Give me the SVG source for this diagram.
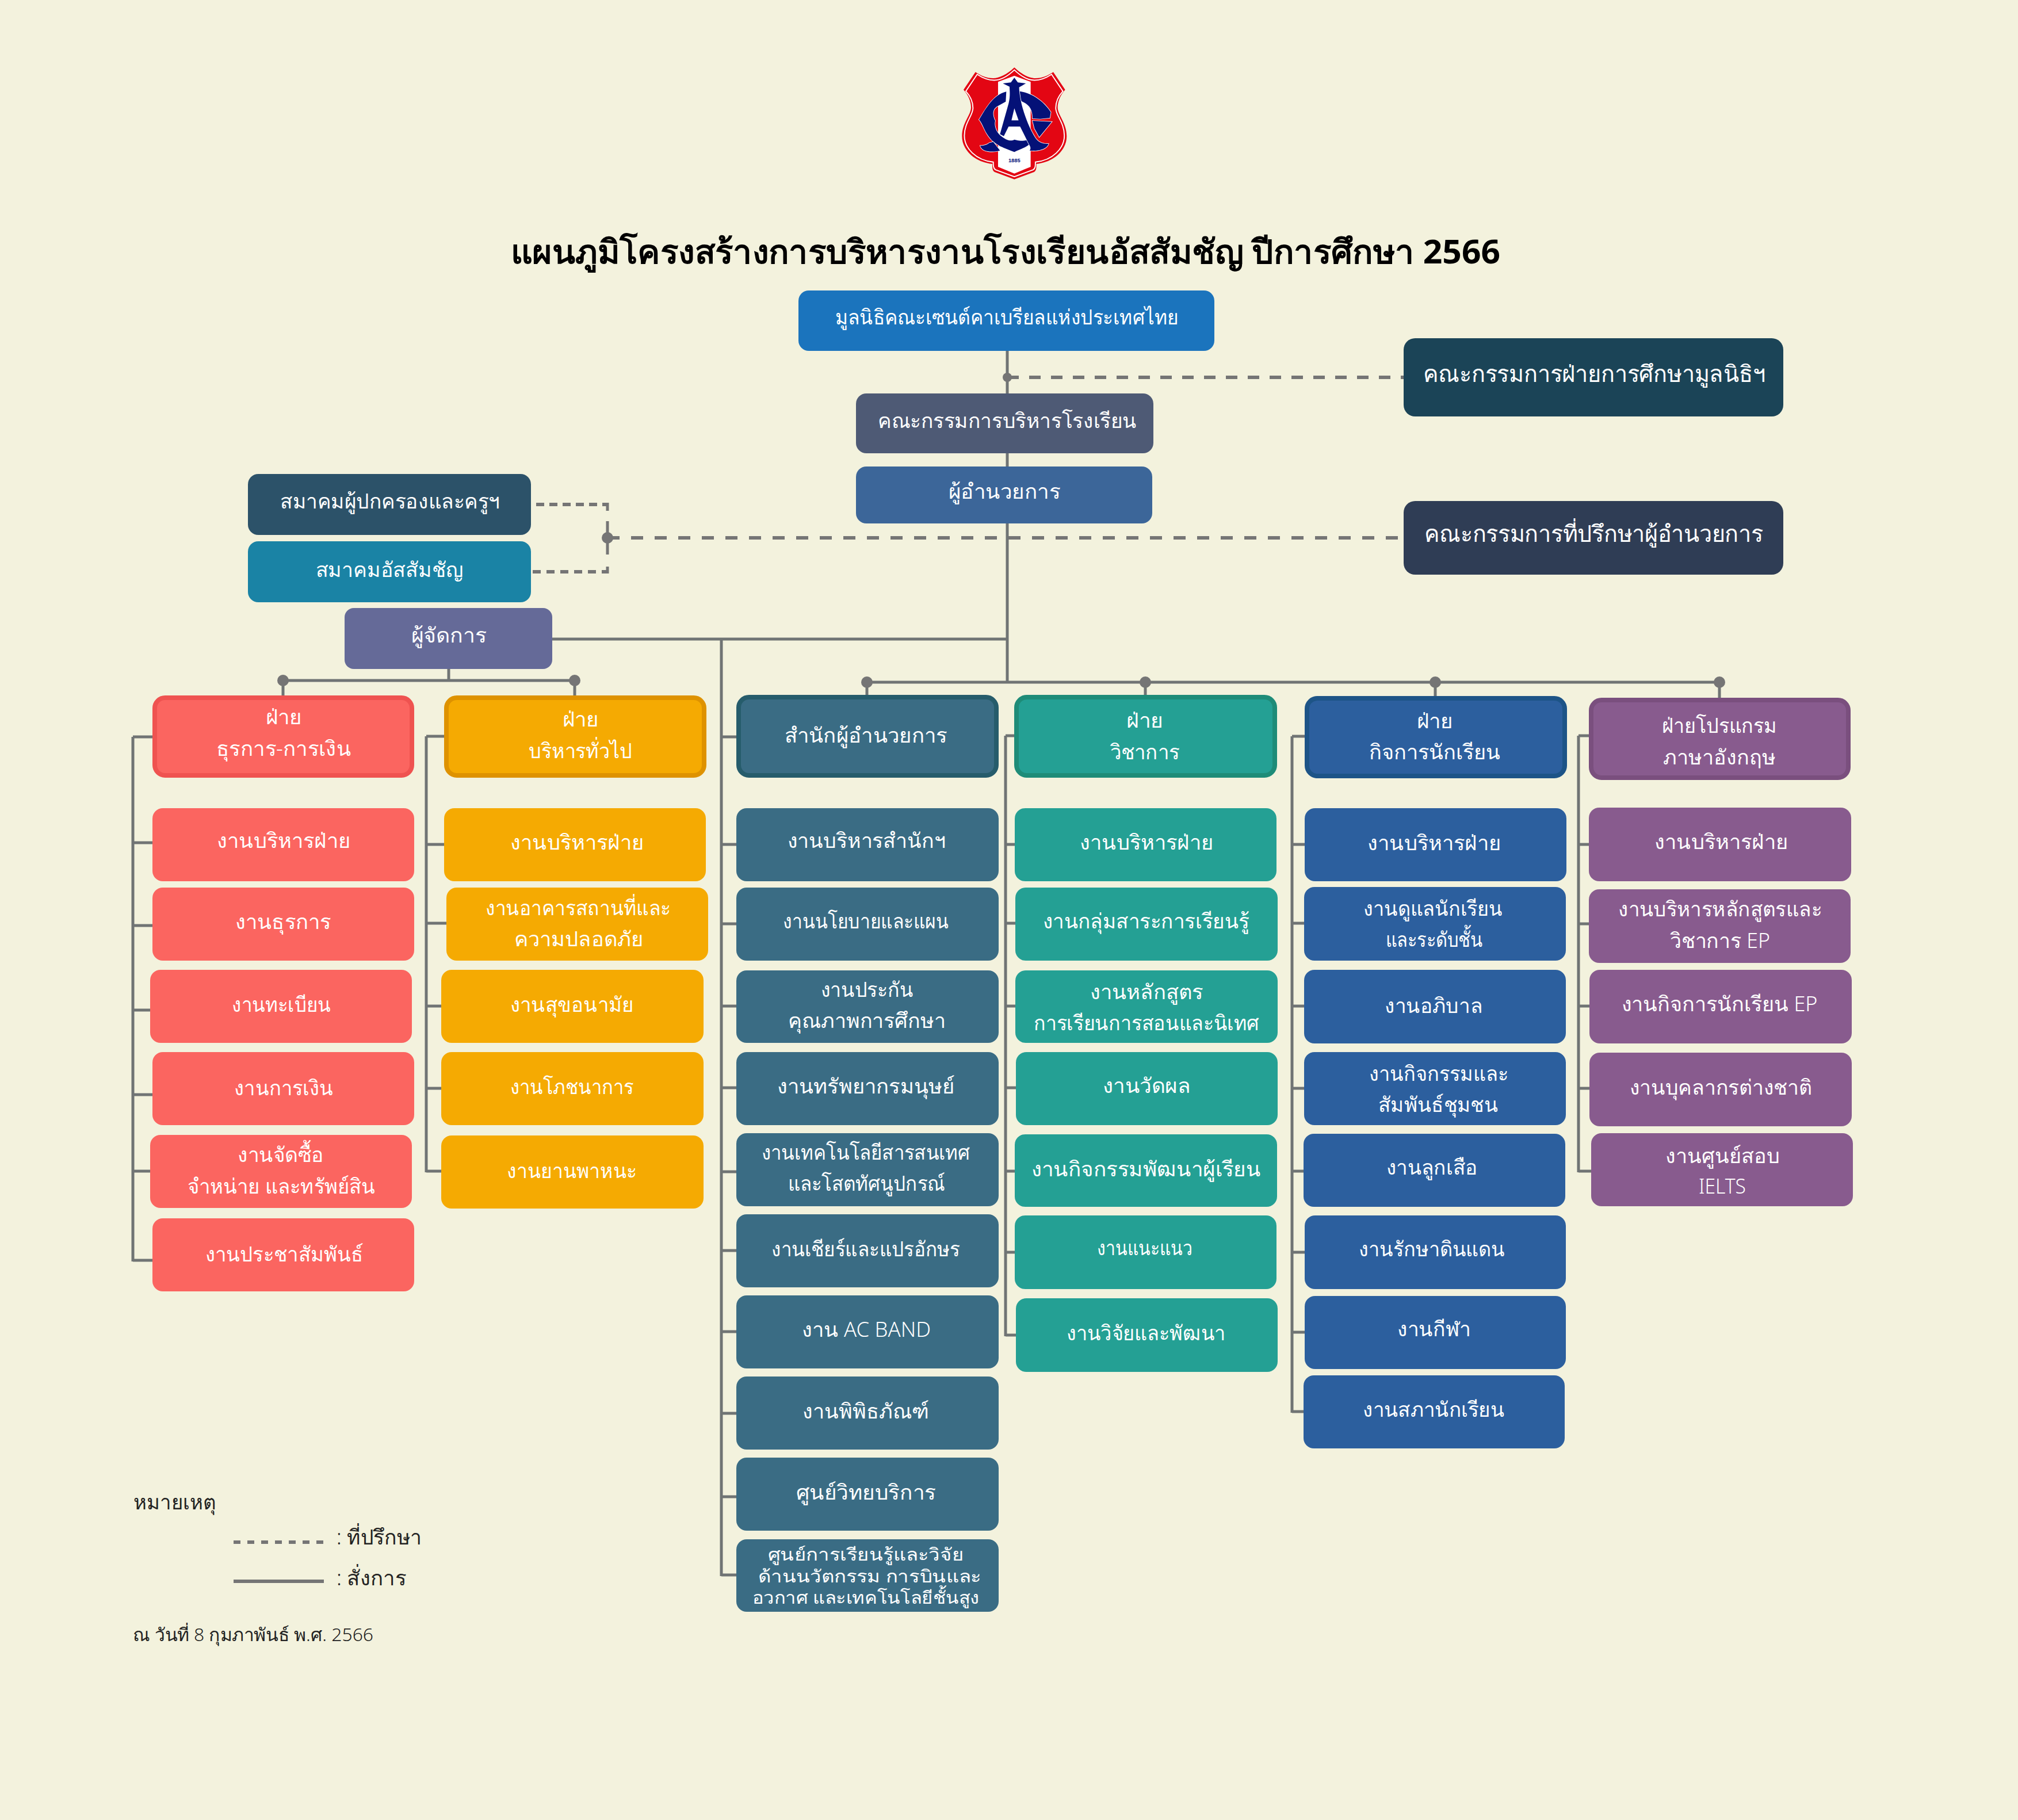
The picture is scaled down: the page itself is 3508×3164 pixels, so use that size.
<svg xmlns="http://www.w3.org/2000/svg" width="3508" height="3164" viewBox="0 0 3508 3164">
<style>
text{font-family:"Noto Sans","Liberation Sans",sans-serif;font-size:36px;font-weight:300;fill:#fff;text-anchor:middle}
text.big{font-size:40px}
text.sm{font-size:30px}
text.title{fill:#000;font-weight:700;font-size:58px}
text.note{fill:#222;text-anchor:start}
text.date{fill:#222;text-anchor:start;font-size:31px}
.red{fill:#fb6560}.org{fill:#f5aa02}.dkt{fill:#3a6c84}.tea{fill:#24a094}.blu{fill:#2c5f9e}.pur{fill:#885b8e}
rect.hd{stroke-width:8}
.red.hd{stroke:#ef5350}.org.hd{stroke:#de9200}.dkt.hd{stroke:#265c6b}.tea.hd{stroke:#1e8c78}.blu.hd{stroke:#1d5487}.pur.hd{stroke:#7a4f7e}
.solid{fill:none;stroke:#707474;stroke-width:5}
.dash{fill:none;stroke:#757575;stroke-width:6}
.dot{fill:#757575}
</style>
<defs>
<path id="sh" d="M790 112C830 150 870 168 900 168C935 168 965 155 993 136L1055 228C1030 255 1016 290 1016 320C1016 360 1063 400 1063 470C1063 540 1000 605 905 615C905 635 905 650 893 657L790 695L687 657C675 650 675 635 675 615C580 605 517 540 517 470C517 400 564 360 564 320C564 290 550 255 525 228L587 136C615 155 645 168 680 168C710 168 750 150 790 112Z"/>
</defs>
<rect width="3508" height="3164" fill="#f3f2dd"/>
<g id="logo" transform="translate(1500 80) scale(.3333)">
<use href="#sh" fill="#e30613"/>
<use href="#sh" fill="none" stroke="#fff" stroke-width="6" transform="translate(790 402) scale(.955) translate(-790 -402)"/>
<path d="M705 187L790 155L875 187V630L790 665L705 630Z" fill="#fff"/>
<g fill="#041177" stroke="#fff" stroke-width="5" paint-order="stroke">
<path d="M748 238C680 255 645 320 606 384C625 405 632 440 655 470C690 520 745 535 790 553C825 535 850 530 872 510L860 490C825 500 800 490 790 488C770 500 745 490 715 465C690 440 685 410 690 390C675 360 675 330 700 315L745 290Z"/>
<path d="M805 235C880 240 945 290 980 345L975 375L925 380L885 378C885 350 880 320 850 300L805 275Z"/>
<path d="M885 390L985 395L920 475L895 430Z"/>
<path d="M660 505C640 520 625 520 612 520C620 555 680 555 715 545L680 500Z"/>
<path d="M790 165L808 190L850 195L815 215C815 280 850 400 900 480C920 510 950 510 968 510C960 540 910 550 870 545C880 530 870 520 860 500L820 420H760L735 470L715 460L760 300C770 260 765 230 765 212L730 195L772 190Z"/>
</g>
<path d="M790 325L775 388H812Z" fill="#fff"/>
<text x="790" y="606" style="font-family:'Liberation Sans',sans-serif;font-size:28px;font-weight:700;fill:#041177">1885</text>
</g>
<text class="title" x="1748" y="458" textLength="1720" lengthAdjust="spacingAndGlyphs">แผนภูมิโครงสร้างการบริหารงานโรงเรียนอัสสัมชัญ ปีการศึกษา 2566</text>
<g id="connectors">
<path class="solid" d="M1751 610V1186M960 1111H1751M1507 1186H2989M780 1163V1183M492 1183H999M492 1183V1210M999 1183V1210M1507 1186V1210M1991 1186V1210M2495 1186V1210M2989 1186V1213"/>
<path class="solid" d="M231 1281V2193M231 1281H265M231 1465H265M231 1609H265M231 1756H262M231 1903H265M231 2036H262M231 2191H265"/>
<path class="solid" d="M741 1280V2038M741 1280H772M741 1468H772M741 1605H776M741 1749H767M741 1892H767M741 2036H767"/>
<path class="solid" d="M1254 1111V2740M1254 1281H1280M1254 1468H1280M1254 1606H1280M1254 1749H1280M1254 1891H1280M1254 2037H1280M1254 2174H1280M1254 2315H1280M1254 2457H1280M1254 2602H1280M1254 2738H1280"/>
<path class="solid" d="M1748 1279V2323M1748 1279H1763M1748 1468H1764M1748 1605H1765M1748 1749H1765M1748 1891H1766M1748 2036H1765M1748 2177H1764M1748 2321H1766"/>
<path class="solid" d="M2246 1280V2456M2246 1280H2268M2246 1468H2268M2246 1605H2267M2246 1749H2267M2246 1892H2268M2246 2036H2266M2246 2177H2268M2246 2316H2268M2246 2454H2266"/>
<path class="solid" d="M2744 1279V2038M2744 1279H2762M2744 1468H2762M2744 1606H2762M2744 1749H2763M2744 1892H2763M2744 2036H2766"/>
<path class="dash" stroke-dasharray="20 18" d="M1751 656H2440"/>
<path class="dash" stroke-dasharray="21 20" d="M1056 935H2440"/>
<path class="dash" stroke-dasharray="14 9" d="M932 877H1056"/>
<path class="dash" stroke-dasharray="14 10" d="M926 994H1056"/>
<path class="dash" style="stroke-width:5" d="M1056 874V888M1056 906V964M1056 985V997"/>
<circle class="dot" cx="1751" cy="656" r="8"/>
<circle class="dot" cx="1056" cy="935" r="10"/>
<circle class="dot" cx="492" cy="1183" r="10"/><circle class="dot" cx="999" cy="1183" r="10"/>
<circle class="dot" cx="1507" cy="1186" r="10"/><circle class="dot" cx="1991" cy="1186" r="10"/><circle class="dot" cx="2495" cy="1186" r="10"/><circle class="dot" cx="2989" cy="1186" r="10"/>
</g>
<g id="foundation"><rect x="1388" y="505" width="723" height="105" rx="18" fill="#1b74bd"/><text x="1750" y="564" textLength="597" lengthAdjust="spacingAndGlyphs">มูลนิธิคณะเซนต์คาเบรียลแห่งประเทศไทย</text></g>
<g id="board"><rect x="1488" y="684" width="517" height="104" rx="18" fill="#4e5a75"/><text x="1751" y="744" textLength="450" lengthAdjust="spacingAndGlyphs">คณะกรรมการบริหารโรงเรียน</text></g>
<g id="director"><rect x="1488" y="811" width="515" height="99" rx="18" fill="#3c6699"/><text x="1746" y="867" textLength="194" lengthAdjust="spacingAndGlyphs">ผู้อำนวยการ</text></g>
<g id="edu-committee"><rect x="2440" y="588" width="660" height="136" rx="20" fill="#1b4457"/><text class="big" x="2771" y="664" textLength="595" lengthAdjust="spacingAndGlyphs">คณะกรรมการฝ่ายการศึกษามูลนิธิฯ</text></g>
<g id="advisors"><rect x="2440" y="871" width="660" height="128" rx="20" fill="#2f3d55"/><text class="big" x="2770" y="942" textLength="589" lengthAdjust="spacingAndGlyphs">คณะกรรมการที่ปรึกษาผู้อำนวยการ</text></g>
<g id="parents"><rect x="431" y="824" width="492" height="106" rx="18" fill="#2c5269"/><text x="678" y="884" textLength="382" lengthAdjust="spacingAndGlyphs">สมาคมผู้ปกครองและครูฯ</text></g>
<g id="alumni"><rect x="431" y="941" width="492" height="106" rx="18" fill="#1a83a5"/><text x="677" y="1003" textLength="257" lengthAdjust="spacingAndGlyphs">สมาคมอัสสัมชัญ</text></g>
<g id="manager"><rect x="599" y="1057" width="361" height="106" rx="16" fill="#656a98"/><text x="780" y="1117" textLength="131" lengthAdjust="spacingAndGlyphs">ผู้จัดการ</text></g>

<g id="h-red"><rect class="red hd" x="269" y="1213" width="447" height="135" rx="18"/><text x="493" y="1259" textLength="63" lengthAdjust="spacingAndGlyphs">ฝ่าย</text><text x="493" y="1314" textLength="234" lengthAdjust="spacingAndGlyphs">ธุรการ-การเงิน</text></g>
<g id="r1"><rect class="red" x="265" y="1405" width="455" height="127" rx="18"/><text x="493" y="1474" textLength="232" lengthAdjust="spacingAndGlyphs">งานบริหารฝ่าย</text></g>
<g id="r2"><rect class="red" x="265" y="1543" width="455" height="127" rx="18"/><text x="492" y="1615" textLength="167" lengthAdjust="spacingAndGlyphs">งานธุรการ</text></g>
<g id="r3"><rect class="red" x="261" y="1686" width="455" height="127" rx="18"/><text x="489" y="1759" textLength="172" lengthAdjust="spacingAndGlyphs">งานทะเบียน</text></g>
<g id="r4"><rect class="red" x="265" y="1829" width="455" height="127" rx="18"/><text x="493" y="1904" textLength="172" lengthAdjust="spacingAndGlyphs">งานการเงิน</text></g>
<g id="r5"><rect class="red" x="261" y="1973" width="455" height="127" rx="18"/><text x="488" y="2020" textLength="150" lengthAdjust="spacingAndGlyphs">งานจัดซื้อ</text><text x="489" y="2075" textLength="327" lengthAdjust="spacingAndGlyphs">จำหน่าย และทรัพย์สิน</text></g>
<g id="r6"><rect class="red" x="265" y="2118" width="455" height="127" rx="18"/><text x="494" y="2193" textLength="275" lengthAdjust="spacingAndGlyphs">งานประชาสัมพันธ์</text></g>

<g id="h-org"><rect class="org hd" x="776" y="1213" width="448" height="135" rx="18"/><text x="1009" y="1263" textLength="63" lengthAdjust="spacingAndGlyphs">ฝ่าย</text><text x="1009" y="1318" textLength="180" lengthAdjust="spacingAndGlyphs">บริหารทั่วไป</text></g>
<g id="o1"><rect class="org" x="772" y="1405" width="455" height="127" rx="18"/><text x="1003" y="1477" textLength="232" lengthAdjust="spacingAndGlyphs">งานบริหารฝ่าย</text></g>
<g id="o2"><rect class="org" x="776" y="1543" width="455" height="127" rx="18"/><text x="1005" y="1591" textLength="322" lengthAdjust="spacingAndGlyphs">งานอาคารสถานที่และ</text><text x="1006" y="1645" textLength="225" lengthAdjust="spacingAndGlyphs">ความปลอดภัย</text></g>
<g id="o3"><rect class="org" x="767" y="1686" width="456" height="127" rx="18"/><text x="994" y="1759" textLength="215" lengthAdjust="spacingAndGlyphs">งานสุขอนามัย</text></g>
<g id="o4"><rect class="org" x="767" y="1829" width="456" height="127" rx="18"/><text x="994" y="1902" textLength="215" lengthAdjust="spacingAndGlyphs">งานโภชนาการ</text></g>
<g id="o5"><rect class="org" x="767" y="1974" width="456" height="127" rx="18"/><text x="994" y="2048" textLength="226" lengthAdjust="spacingAndGlyphs">งานยานพาหนะ</text></g>

<g id="h-dkt"><rect class="dkt hd" x="1284" y="1212" width="448" height="136" rx="18"/><text x="1505" y="1291" textLength="283" lengthAdjust="spacingAndGlyphs">สำนักผู้อำนวยการ</text></g>
<g id="d1"><rect class="dkt" x="1280" y="1405" width="456" height="127" rx="18"/><text x="1506" y="1474" textLength="275" lengthAdjust="spacingAndGlyphs">งานบริหารสำนักฯ</text></g>
<g id="d2"><rect class="dkt" x="1280" y="1543" width="456" height="127" rx="18"/><text x="1505" y="1614" textLength="288" lengthAdjust="spacingAndGlyphs">งานนโยบายและแผน</text></g>
<g id="d3"><rect class="dkt" x="1280" y="1687" width="456" height="126" rx="18"/><text x="1507" y="1733" textLength="161" lengthAdjust="spacingAndGlyphs">งานประกัน</text><text x="1507" y="1787" textLength="274" lengthAdjust="spacingAndGlyphs">คุณภาพการศึกษา</text></g>
<g id="d4"><rect class="dkt" x="1280" y="1829" width="456" height="127" rx="18"/><text x="1505" y="1901" textLength="309" lengthAdjust="spacingAndGlyphs">งานทรัพยากรมนุษย์</text></g>
<g id="d5"><rect class="dkt" x="1280" y="1970" width="456" height="127" rx="18"/><text x="1505" y="2016" textLength="363" lengthAdjust="spacingAndGlyphs">งานเทคโนโลยีสารสนเทศ</text><text x="1506" y="2070" textLength="273" lengthAdjust="spacingAndGlyphs">และโสตทัศนูปกรณ์</text></g>
<g id="d6"><rect class="dkt" x="1280" y="2111" width="456" height="127" rx="18"/><text x="1505" y="2184" textLength="328" lengthAdjust="spacingAndGlyphs">งานเชียร์และแปรอักษร</text></g>
<g id="d7"><rect class="dkt" x="1280" y="2252" width="456" height="127" rx="18"/><text x="1506" y="2324" textLength="224" lengthAdjust="spacingAndGlyphs">งาน AC BAND</text></g>
<g id="d8"><rect class="dkt" x="1280" y="2393" width="456" height="127" rx="18"/><text x="1505" y="2466" textLength="220" lengthAdjust="spacingAndGlyphs">งานพิพิธภัณฑ์</text></g>
<g id="d9"><rect class="dkt" x="1280" y="2534" width="456" height="127" rx="18"/><text x="1505" y="2607" textLength="243" lengthAdjust="spacingAndGlyphs">ศูนย์วิทยบริการ</text></g>
<g id="d10"><rect class="dkt" x="1280" y="2676" width="456" height="126" rx="18"/><text class="sm" x="1505" y="2713" textLength="341" lengthAdjust="spacingAndGlyphs">ศูนย์การเรียนรู้และวิจัย</text><text class="sm" x="1512" y="2751" textLength="388" lengthAdjust="spacingAndGlyphs">ด้านนวัตกรรม การบินและ</text><text class="sm" x="1505" y="2788" textLength="395" lengthAdjust="spacingAndGlyphs">อวกาศ และเทคโนโลยีชั้นสูง</text></g>

<g id="h-tea"><rect class="tea hd" x="1767" y="1212" width="449" height="136" rx="18"/><text x="1990" y="1265" textLength="64" lengthAdjust="spacingAndGlyphs">ฝ่าย</text><text x="1990" y="1320" textLength="121" lengthAdjust="spacingAndGlyphs">วิชาการ</text></g>
<g id="t1"><rect class="tea" x="1764" y="1405" width="455" height="127" rx="18"/><text x="1993" y="1477" textLength="232" lengthAdjust="spacingAndGlyphs">งานบริหารฝ่าย</text></g>
<g id="t2"><rect class="tea" x="1765" y="1543" width="456" height="127" rx="18"/><text x="1992" y="1614" textLength="359" lengthAdjust="spacingAndGlyphs">งานกลุ่มสาระการเรียนรู้</text></g>
<g id="t3"><rect class="tea" x="1765" y="1687" width="456" height="126" rx="18"/><text x="1993" y="1737" textLength="197" lengthAdjust="spacingAndGlyphs">งานหลักสูตร</text><text x="1993" y="1791" textLength="392" lengthAdjust="spacingAndGlyphs">การเรียนการสอนและนิเทศ</text></g>
<g id="t4"><rect class="tea" x="1766" y="1829" width="455" height="127" rx="18"/><text x="1993" y="1900" textLength="153" lengthAdjust="spacingAndGlyphs">งานวัดผล</text></g>
<g id="t5"><rect class="tea" x="1764" y="1972" width="456" height="126" rx="18"/><text x="1992" y="2045" textLength="399" lengthAdjust="spacingAndGlyphs">งานกิจกรรมพัฒนาผู้เรียน</text></g>
<g id="t6"><rect class="tea" x="1764" y="2113" width="455" height="128" rx="18"/><text x="1990" y="2182" textLength="166" lengthAdjust="spacingAndGlyphs">งานแนะแนว</text></g>
<g id="t7"><rect class="tea" x="1766" y="2257" width="455" height="128" rx="18"/><text x="1992" y="2330" textLength="277" lengthAdjust="spacingAndGlyphs">งานวิจัยและพัฒนา</text></g>

<g id="h-blu"><rect class="blu hd" x="2272" y="1214" width="448" height="135" rx="18"/><text x="2494" y="1266" textLength="63" lengthAdjust="spacingAndGlyphs">ฝ่าย</text><text x="2494" y="1320" textLength="229" lengthAdjust="spacingAndGlyphs">กิจการนักเรียน</text></g>
<g id="b1"><rect class="blu" x="2268" y="1405" width="455" height="127" rx="18"/><text x="2493" y="1478" textLength="232" lengthAdjust="spacingAndGlyphs">งานบริหารฝ่าย</text></g>
<g id="b2"><rect class="blu" x="2267" y="1542" width="455" height="128" rx="18"/><text x="2491" y="1592" textLength="242" lengthAdjust="spacingAndGlyphs">งานดูแลนักเรียน</text><text x="2493" y="1646" textLength="169" lengthAdjust="spacingAndGlyphs">และระดับชั้น</text></g>
<g id="b3"><rect class="blu" x="2267" y="1686" width="455" height="128" rx="18"/><text x="2492" y="1761" textLength="170" lengthAdjust="spacingAndGlyphs">งานอภิบาล</text></g>
<g id="b4"><rect class="blu" x="2267" y="1829" width="455" height="127" rx="18"/><text x="2501" y="1879" textLength="242" lengthAdjust="spacingAndGlyphs">งานกิจกรรมและ</text><text x="2500" y="1933" textLength="208" lengthAdjust="spacingAndGlyphs">สัมพันธ์ชุมชน</text></g>
<g id="b5"><rect class="blu" x="2266" y="1971" width="455" height="127" rx="18"/><text x="2489" y="2042" textLength="159" lengthAdjust="spacingAndGlyphs">งานลูกเสือ</text></g>
<g id="b6"><rect class="blu" x="2268" y="2113" width="454" height="128" rx="18"/><text x="2489" y="2184" textLength="254" lengthAdjust="spacingAndGlyphs">งานรักษาดินแดน</text></g>
<g id="b7"><rect class="blu" x="2268" y="2253" width="454" height="127" rx="18"/><text x="2493" y="2323" textLength="128" lengthAdjust="spacingAndGlyphs">งานกีฬา</text></g>
<g id="b8"><rect class="blu" x="2266" y="2391" width="454" height="127" rx="18"/><text x="2492" y="2463" textLength="246" lengthAdjust="spacingAndGlyphs">งานสภานักเรียน</text></g>

<g id="h-pur"><rect class="pur hd" x="2766" y="1217" width="447" height="135" rx="18"/><text x="2989" y="1274" textLength="200" lengthAdjust="spacingAndGlyphs">ฝ่ายโปรแกรม</text><text x="2989" y="1329" textLength="196" lengthAdjust="spacingAndGlyphs">ภาษาอังกฤษ</text></g>
<g id="p1"><rect class="pur" x="2762" y="1404" width="456" height="128" rx="18"/><text x="2992" y="1476" textLength="232" lengthAdjust="spacingAndGlyphs">งานบริหารฝ่าย</text></g>
<g id="p2"><rect class="pur" x="2762" y="1546" width="455" height="128" rx="18"/><text x="2990" y="1593" textLength="354" lengthAdjust="spacingAndGlyphs">งานบริหารหลักสูตรและ</text><text x="2990" y="1648" textLength="174" lengthAdjust="spacingAndGlyphs">วิชาการ EP</text></g>
<g id="p3"><rect class="pur" x="2763" y="1686" width="456" height="128" rx="18"/><text x="2989" y="1758" textLength="341" lengthAdjust="spacingAndGlyphs">งานกิจการนักเรียน EP</text></g>
<g id="p4"><rect class="pur" x="2763" y="1830" width="456" height="128" rx="18"/><text x="2991" y="1903" textLength="317" lengthAdjust="spacingAndGlyphs">งานบุคลากรต่างชาติ</text></g>
<g id="p5"><rect class="pur" x="2766" y="1970" width="455" height="127" rx="18"/><text x="2994" y="2022" textLength="199" lengthAdjust="spacingAndGlyphs">งานศูนย์สอบ</text><text x="2994" y="2075" textLength="82" lengthAdjust="spacingAndGlyphs">IELTS</text></g>

<g id="legend">
<text class="note" x="232" y="2624" textLength="143" lengthAdjust="spacingAndGlyphs">หมายเหตุ</text>
<path class="dash" stroke-dasharray="12 12" d="M406 2681H563"/>
<path class="solid" style="stroke-width:6;stroke:#757575" d="M406 2749H563"/>
<text class="note" x="585" y="2685" textLength="148" lengthAdjust="spacingAndGlyphs">: ที่ปรึกษา</text>
<text class="note" x="585" y="2756" textLength="121" lengthAdjust="spacingAndGlyphs">: สั่งการ</text>
<text class="date" x="231" y="2853" textLength="418" lengthAdjust="spacingAndGlyphs">ณ วันที่ 8 กุมภาพันธ์ พ.ศ. 2566</text>
</g>
</svg>
